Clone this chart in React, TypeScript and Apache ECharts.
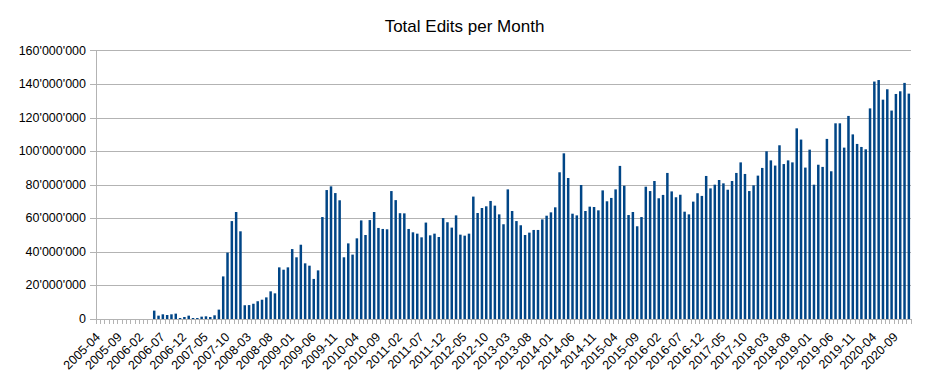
import React, { useEffect, useRef } from "react";
import * as echarts from "echarts";

const startYear = 2005;
const startMonth = 4;

// Values in millions of edits, one array per year (2005 starts in April)
const v2005 = [0, 0, 0, 0, 0, 0, 0, 0, 0];
const v2006 = [0, 0, 0, 0, 5.0, 2.0, 2.8, 2.4, 2.8, 3.2, 0.6, 1.2];
const v2007 = [2.0, 0.6, 0.6, 1.4, 1.6, 1.2, 2.2, 5.6, 25.4, 39.6, 58.4, 63.8];
const v2008 = [52.3, 8.2, 8.3, 9.1, 10.6, 11.5, 12.9, 16.5, 15.3, 30.8, 29.4, 30.8];
const v2009 = [41.7, 36.8, 44.3, 33.2, 31.8, 23.9, 29.0, 60.8, 76.9, 79.1, 75.1, 70.8];
const v2010 = [36.8, 45.1, 38.4, 48.1, 58.8, 50.1, 59.0, 63.8, 54.3, 53.7, 53.5, 76.3];
const v2011 = [70.9, 63.1, 63.0, 53.7, 51.7, 50.9, 48.7, 57.5, 49.9, 50.9, 48.9, 60.2];
const v2012 = [57.7, 54.5, 61.8, 50.3, 49.7, 50.9, 73.0, 63.2, 66.2, 67.2, 70.4, 67.6];
const v2013 = [62.4, 56.5, 77.3, 64.4, 58.4, 55.9, 50.1, 51.5, 53.1, 53.1, 59.4, 61.6];
const v2014 = [63.6, 66.6, 87.5, 98.8, 84.1, 62.8, 61.8, 79.9, 64.4, 67.0, 66.8, 64.8];
const v2015 = [76.7, 70.2, 72.2, 77.3, 91.3, 79.5, 62.0, 63.8, 55.3, 60.8, 78.9, 76.3];
const v2016 = [82.3, 72.0, 74.0, 87.1, 76.1, 72.6, 74.1, 64.0, 62.4, 70.0, 75.0, 73.4];
const v2017 = [85.3, 77.9, 80.1, 82.9, 80.9, 77.1, 82.3, 87.1, 93.4, 86.5, 76.3, 79.7];
const v2018 = [85.5, 90.1, 100.0, 94.6, 91.5, 103.6, 92.4, 94.6, 93.4, 113.7, 107.0, 90.3];
const v2019 = [101.0, 80.1, 92.0, 90.7, 107.4, 88.1, 116.7, 116.7, 102.2, 121.1, 110.1, 104.4];
const v2020 = [102.6, 101.2, 125.6, 141.6, 142.5, 130.8, 137.0, 124.3, 134.2, 135.8, 140.8, 134.4];

const yearly = [v2005, v2006, v2007, v2008, v2009, v2010, v2011, v2012, v2013, v2014, v2015, v2016, v2017, v2018, v2019, v2020];
const valuesMillions: number[] = ([] as number[]).concat(...yearly);

const categories: string[] = valuesMillions.map((_, i) => {
  const m0 = startMonth - 1 + i;
  const y = startYear + Math.floor(m0 / 12);
  const m = (m0 % 12) + 1;
  return `${y}-${m < 10 ? "0" + m : m}`;
});

const fmt = (v: number) => String(Math.round(v)).replace(/\B(?=(\d{3})+(?!\d))/g, "'");

const FONT = "'Liberation Sans', Arial, sans-serif";

export default function App() {
  const ref = useRef<HTMLDivElement>(null);
  useEffect(() => {
    if (!ref.current) return;
    const chart = echarts.init(ref.current, null, { renderer: "svg" });
    chart.setOption({
      animation: false,
      backgroundColor: "#ffffff",
      title: {
        text: "Total Edits per Month",
        left: "center",
        top: 13,
        textStyle: { fontFamily: FONT, fontSize: 17, fontWeight: "normal", color: "#000" },
      },
      grid: { left: 96, right: 18, top: 50.7, bottom: 68, containLabel: false },
      xAxis: {
        type: "category",
        data: categories,
        boundaryGap: true,
        axisLine: { show: true, lineStyle: { color: "#b3b3b3", width: 1 } },
        axisTick: { show: true, interval: 0, length: 5, lineStyle: { color: "#b3b3b3" } },
        axisLabel: {
          interval: 4,
          rotate: 45,
          margin: 16,
          fontFamily: FONT,
          fontSize: 12.5,
          color: "#000",
        },
        splitLine: { show: false },
      },
      yAxis: {
        type: "value",
        min: 0,
        max: 160000000,
        interval: 20000000,
        axisLine: { show: true, lineStyle: { color: "#b3b3b3", width: 1 } },
        axisTick: { show: true, length: 6, lineStyle: { color: "#b3b3b3" } },
        axisLabel: {
          margin: 10,
          fontFamily: FONT,
          fontSize: 12.5,
          color: "#000",
          formatter: (v: number) => fmt(v),
        },
        splitLine: { show: true, lineStyle: { color: "#b3b3b3", width: 1 } },
      },
      series: [
        {
          type: "bar",
          data: valuesMillions.map((v) => v * 1000000),
          barWidth: "58%",
          itemStyle: { color: "#004586" },
        },
      ],
    });
    return () => chart.dispose();
  }, []);
  return (
    <div
      ref={ref}
      style={{ position: "fixed", left: 0, top: 0, width: 929, height: 387, background: "#fff" }}
    />
  );
}
